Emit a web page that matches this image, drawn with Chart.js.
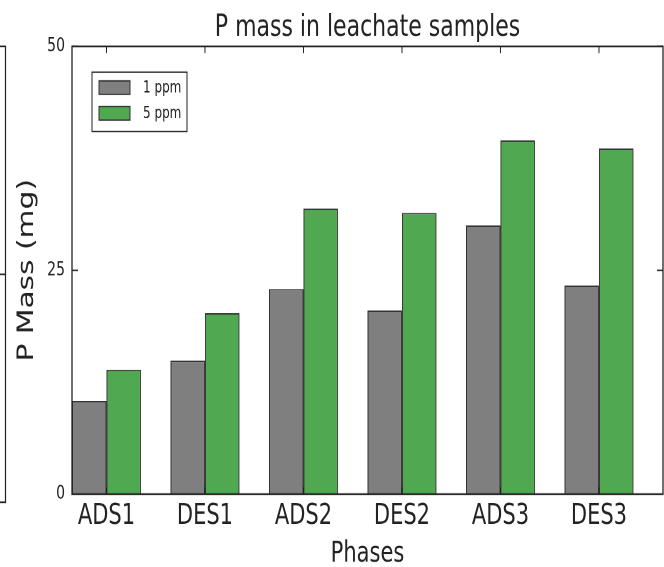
<!DOCTYPE html>
<html>
<head>
<script src="https://cdn.jsdelivr.net/npm/chart.js@4.4.0/dist/chart.umd.min.js"></script>
<style>
  html, body { margin: 0; background: #fff; }
  #page { width: 664px; height: 567px; position: relative; }
  /* the reference is stretched vertically, so draw flat and scale up */
  #wrap { position: absolute; left: 0; top: 0; width: 664px; height: 420px; transform: scaleY(1.35); transform-origin: 0 0; }
</style>
</head>
<body>
<div id="page"><div id="wrap"><canvas id="myChart" width="664" height="420"></canvas></div></div>
<script>
var phases = ["ADS1", "DES1", "ADS2", "DES2", "ADS3", "DES3"];
var mass1ppm = [10.4, 14.9, 22.9, 20.5, 30.0, 23.3];
var mass5ppm = [13.9, 20.2, 31.9, 31.4, 39.5, 38.6];
var yTicks = [0, 25, 50];
var seriesNames = ["1 ppm", "5 ppm"];
var seriesColors = ["#7f7f7f", "#50a850"];

var FONT = "'DejaVu Sans', sans-serif";
var INK = "#222";

function points(vals) {
    return vals.map(function (v, i) { return { x: i + 0.35, y: v }; });
}

// frame, inner ticks, the neighbouring panel's edge and the boxed legend
var framePlugin = {
    id: "frame",
    afterDatasetsDraw: function (chart) {
        var ctx = chart.ctx, a = chart.chartArea;
        var xs = chart.scales.x, ys = chart.scales.y;
        ctx.save();
        ctx.strokeStyle = INK;
        ctx.lineWidth = 1.3;
        ctx.strokeRect(a.left, a.top, a.right - a.left, a.bottom - a.top);

        ctx.lineWidth = 1;
        ctx.beginPath();
        phases.forEach(function (p, i) {
            var px = xs.getPixelForValue(i + 0.35);
            ctx.moveTo(px, a.top); ctx.lineTo(px, a.top + 5);
            ctx.moveTo(px, a.bottom); ctx.lineTo(px, a.bottom - 5);
        });
        yTicks.forEach(function (v) {
            var py = ys.getPixelForValue(v);
            ctx.moveTo(a.left, py); ctx.lineTo(a.left + 6, py);
            ctx.moveTo(a.right, py); ctx.lineTo(a.right - 6, py);
        });
        ctx.stroke();

        // edge of the panel to the left
        var bot = a.bottom + 6;
        ctx.lineWidth = 1.2;
        ctx.beginPath();
        ctx.moveTo(0, a.top); ctx.lineTo(5.5, a.top); ctx.lineTo(5.5, bot); ctx.lineTo(0, bot);
        ctx.moveTo(0, (a.top + bot) / 2); ctx.lineTo(5.5, (a.top + bot) / 2);
        ctx.stroke();

        // legend
        var lx = a.left + 20, ly = a.top + 19;
        ctx.fillStyle = "#fff";
        ctx.fillRect(lx, ly, 95, 44);
        ctx.lineWidth = 1;
        ctx.strokeRect(lx, ly, 95, 44);
        ctx.font = "12px " + FONT;
        ctx.textBaseline = "middle";
        chart.data.datasets.forEach(function (ds, i) {
            var sy = ly + 6.5 + i * 19;
            ctx.fillStyle = ds.backgroundColor;
            ctx.fillRect(lx + 7, sy, 31, 10);
            ctx.strokeStyle = "#333";
            ctx.strokeRect(lx + 7, sy, 31, 10);
            ctx.fillStyle = INK;
            ctx.fillText(ds.label, lx + 51, sy + 5.5);
        });
        ctx.restore();
    }
};

new Chart("myChart", {
    type: "bar",
    data: {
        datasets: [{
            label: seriesNames[0],
            data: points(mass1ppm),
            backgroundColor: seriesColors[0],
            borderColor: "#333",
            borderWidth: 1
        }, {
            label: seriesNames[1],
            data: points(mass5ppm),
            backgroundColor: seriesColors[1],
            borderColor: "#333",
            borderWidth: 1
        }]
    },
    options: {
        responsive: false,
        animation: false,
        devicePixelRatio: 2,
        categoryPercentage: 0.7,
        barPercentage: 1.0,
        layout: { padding: { left: 0, right: 1, top: 0, bottom: 0 } },
        plugins: {
            legend: { display: false },
            tooltip: { enabled: false },
            title: {
                display: true,
                text: "P mass in leachate samples",
                fullSize: false,
                color: INK,
                font: { family: FONT, size: 22, weight: "normal" },
                padding: { top: 7.5, bottom: 0.5 }
            }
        },
        scales: {
            x: {
                type: "linear",
                min: 0,
                max: 6,
                offset: false,
                grid: { display: false, drawTicks: false, offset: false },
                border: { display: false },
                afterBuildTicks: function (s) {
                    s.ticks = phases.map(function (p, i) { return { value: i + 0.35 }; });
                },
                afterFit: function (s) { s.height = 54; },
                ticks: {
                    autoSkip: false,
                    maxRotation: 0,
                    padding: 4,
                    color: INK,
                    font: { family: FONT, size: 21 },
                    callback: function (v, i) { return phases[i]; }
                },
                title: {
                    display: true,
                    text: "Phases",
                    color: INK,
                    font: { family: FONT, size: 21 },
                    padding: { top: 0, bottom: -3 }
                }
            },
            y: {
                min: 0,
                max: 50,
                grid: { display: false, drawTicks: false },
                border: { display: false },
                afterBuildTicks: function (s) {
                    s.ticks = yTicks.map(function (v) { return { value: v }; });
                },
                afterFit: function (s) { s.width = 72; },
                ticks: {
                    padding: 7,
                    color: INK,
                    font: { family: FONT, size: 14 }
                },
                title: {
                    display: true,
                    text: "P Mass (mg)",
                    color: INK,
                    font: { family: FONT, size: 22 },
                    padding: { top: 14, bottom: 0 }
                }
            }
        }
    },
    plugins: [framePlugin]
});
</script>
</body>
</html>
